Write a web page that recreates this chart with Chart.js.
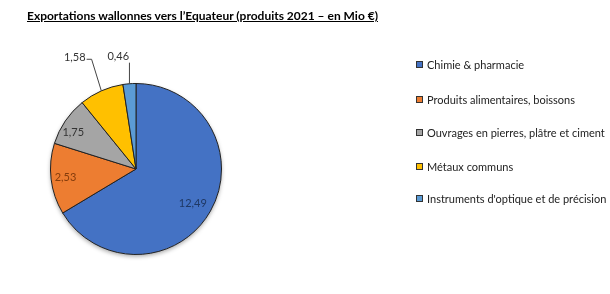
<!DOCTYPE html>
<html>
<head>
<meta charset="utf-8">
<script src="https://cdn.jsdelivr.net/npm/chart.js@4.4.1/dist/chart.umd.min.js"></script>
<style>
  body { margin: 0; background: #fff; }
  #wrap { position: relative; width: 610px; height: 294px; font-family: Lato, "Open Sans", sans-serif; }
  #title { position: absolute; left: 27px; top: 8px; font-size: 12px; font-weight: bold; text-decoration: underline; color: #000; white-space: nowrap; }
  #legend { position: absolute; left: 416px; top: 0; font-size: 11px; color: #222; }
  .item { position: absolute; left: 0; white-space: nowrap; display: flex; align-items: center; }
  .box { width: 5px; height: 5px; border: 1px solid #333; margin-right: 4px; }
</style>
</head>
<body>
<div id="wrap">
  <canvas id="chart" width="610" height="294"></canvas>
  <div id="title">Exportations wallonnes vers l’Equateur (produits 2021 – en Mio €)</div>
  <div id="legend"></div>
</div>
<script>
// categories and values (Mio €)
const categories = [
  "Chimie & pharmacie",
  "Produits alimentaires, boissons",
  "Ouvrages en pierres, plâtre et ciment",
  "Métaux communs",
  "Instruments d'optique et de précision"
];
const values = [12.49, 2.53, 1.75, 1.58, 0.46];
const colors = ["#4472C4", "#ED7D31", "#A5A5A5", "#FFC000", "#5B9BD5"];
const labelColors = ["#1F3864", "#843C0C", "#333333", "#333333", "#333333"];

// html legend from the same arrays
const legendEl = document.getElementById("legend");
const legendTops = [65, 100, 133, 166.5, 199];
categories.forEach((c, i) => {
  const d = document.createElement("div");
  d.className = "item";
  d.style.top = (legendTops[i] - 7) + "px";
  d.innerHTML = '<span class="box" style="background:' + colors[i] + '"></span>' + c;
  legendEl.appendChild(d);
});

// soft outer shadow under the pie
const shadowPlugin = {
  id: "pieShadow",
  beforeDatasetsDraw(chart) {
    const arc = chart.getDatasetMeta(0).data[0];
    if (!arc) return;
    const { x, y, outerRadius } = arc.getProps(["x", "y", "outerRadius"], true);
    const ctx = chart.ctx;
    ctx.save();
    ctx.shadowColor = "rgba(0,0,0,0.35)";
    ctx.shadowBlur = 4;
    ctx.shadowOffsetY = 2;
    ctx.fillStyle = "#fff";
    ctx.beginPath();
    ctx.arc(x, y, outerRadius, 0, Math.PI * 2);
    ctx.fill();
    ctx.restore();
  }
};

// value labels: inside ones at a radius fraction, outside ones with a leader line
const labelPlugin = {
  id: "valueLabels",
  afterDatasetsDraw(chart, args, opts) {
    const ctx = chart.ctx;
    const meta = chart.getDatasetMeta(0);
    ctx.save();
    ctx.font = "11px Lato, sans-serif";
    ctx.textAlign = "center";
    ctx.textBaseline = "middle";
    meta.data.forEach((arc, i) => {
      const p = opts.place[i];
      const { x, y, startAngle, endAngle, outerRadius } = arc.getProps(["x", "y", "startAngle", "endAngle", "outerRadius"], true);
      const mid = (startAngle + endAngle) / 2;
      const a = mid + (p.da || 0) * Math.PI / 180;
      const lx = x + Math.cos(a) * outerRadius * p.r;
      const ly = y + Math.sin(a) * outerRadius * p.r;
      const txt = values[i].toFixed(2).replace(".", ",");
      ctx.fillStyle = labelColors[i];
      ctx.fillText(txt, lx, ly);
      if (p.line) {
        const ex = x + Math.cos(mid) * outerRadius;
        const ey = y + Math.sin(mid) * outerRadius;
        const w = ctx.measureText(txt).width;
        ctx.strokeStyle = "#444";
        ctx.lineWidth = 1;
        ctx.beginPath();
        if (p.line === "elbow") {
          const sx = lx + w / 2 + 1;
          ctx.moveTo(sx, ly + 2);
          ctx.lineTo(sx + 5, ly + 2);
          ctx.lineTo(ex, ey);
        } else {
          ctx.moveTo(ex, ly + 6);
          ctx.lineTo(ex, ey);
        }
        ctx.stroke();
      }
    });
    ctx.restore();
  }
};

new Chart(document.getElementById("chart"), {
  type: "pie",
  data: {
    labels: categories,
    datasets: [{
      data: values,
      backgroundColor: colors,
      borderColor: "#222",
      borderWidth: 1
    }]
  },
  options: {
    responsive: false,
    animation: false,
    layout: { padding: { left: 50, right: 388, top: 83, bottom: 39 } },
    plugins: {
      legend: { display: false },
      tooltip: { enabled: false },
      valueLabels: {
        place: [
          { r: 0.78, da: 2 },
          { r: 0.83, da: 0 },
          { r: 0.85, da: -4 },
          { r: 1.49, da: -4.8, line: "elbow" },
          { r: 1.33, da: -4.6, line: "vertical" }
        ]
      }
    }
  },
  plugins: [shadowPlugin, labelPlugin]
});
</script>
</body>
</html>
